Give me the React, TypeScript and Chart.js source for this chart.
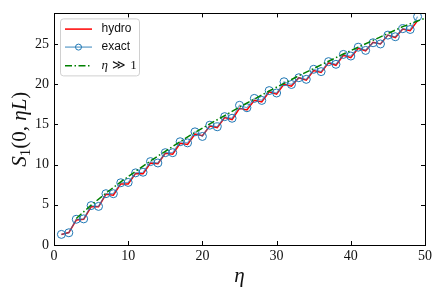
import React, { useEffect, useRef } from "react";
import { Chart, registerables } from "chart.js";

Chart.register(...registerables);

const etaValues = [1,2,3,4,5,6,7,8,9,10,11,12,13,14,15,16,17,18,19,20,21,22,23,24,25,26,27,28,29,30,31,32,33,34,35,36,37,38,39,40,41,42,43,44,45,46,47,48,49];
const exactValues = [1.32,1.52,3.2,3.25,4.9,4.8,6.38,6.38,7.74,7.78,8.97,9.05,10.37,10.2,11.48,11.48,12.84,12.7,14.07,13.5,14.9,14.7,15.96,15.76,17.37,17.07,18.23,17.98,19.2,18.9,20.3,19.96,20.8,20.6,21.85,21.56,22.8,22.47,23.7,23.5,24.6,24.2,25.15,25.0,26.1,25.9,26.9,26.8,28.4];
const hydroValues = [1.3,1.55,3.1,3.2,4.75,4.75,6.3,6.2,7.6,7.6,8.9,8.85,10.2,10.1,11.4,11.3,12.65,12.5,13.8,13.6,14.8,14.6,15.85,15.6,17.0,16.8,18.0,17.8,19.05,18.75,20.0,19.75,20.8,20.5,21.7,21.45,22.65,22.35,23.6,23.3,24.45,24.15,25.2,25.0,26.1,25.8,26.85,26.65,27.9];
const asymEta = [3,5,7,9,11,13,15,17,19,21,23,25,27,29,31,33,35,37,39,41,43,45,47,49,50];
const asymValues = [3.3,4.95,6.45,7.85,9.15,10.45,11.65,12.85,14.0,15.05,16.1,17.15,18.15,19.15,20.1,21.05,21.95,22.85,23.75,24.6,25.45,26.3,27.15,27.85,28.2];
const xTicks = [0,10,20,30,40,50];
const yTicks = [0,5,10,15,20,25];
const legendLabels = ["hydro", "exact"];

const RED = "#ff0000";
const BLUE = "#1f77b4";
const BLUE_LINE = "rgba(31,119,180,0.6)";
const GREEN = "#008000";
const DASHDOT = [7, 2.5, 1.5, 2.5];
const SERIF = "'Liberation Serif'";

const framePlugin = {
  id: "frameTicks",
  afterDatasetsDraw(chart: any) {
    const { ctx, chartArea: a } = chart;
    const xs = chart.scales.x;
    const ys = chart.scales.y;
    ctx.save();
    ctx.strokeStyle = "#000";
    ctx.lineWidth = 1;
    ctx.beginPath();
    const L = 4;
    xTicks.forEach((v) => {
      const px = Math.round(xs.getPixelForValue(v)) + 0.5;
      ctx.moveTo(px, a.bottom); ctx.lineTo(px, a.bottom - L);
      ctx.moveTo(px, a.top); ctx.lineTo(px, a.top + L);
    });
    yTicks.forEach((v) => {
      const py = Math.round(ys.getPixelForValue(v)) + 0.5;
      ctx.moveTo(a.left, py); ctx.lineTo(a.left + L, py);
      ctx.moveTo(a.right, py); ctx.lineTo(a.right - L, py);
    });
    ctx.stroke();
    ctx.strokeRect(Math.round(a.left) + 0.5, Math.round(a.top) + 0.5, Math.round(a.right - a.left), Math.round(a.bottom - a.top));

    // y-axis title with mixed styles
    ctx.save();
    ctx.translate(19, (a.top + a.bottom) / 2);
    ctx.rotate(-Math.PI / 2);
    ctx.fillStyle = "#111";
    ctx.textBaseline = "alphabetic";
    ctx.textAlign = "left";
    const parts: [string, string, number][] = [
      ["S", `italic 21px ${SERIF}`, 0],
      ["1", `15px ${SERIF}`, 4],
      ["(0, ", `21px ${SERIF}`, 0],
      ["\u03b7L", `italic 21px ${SERIF}`, 0],
      [")", `21px ${SERIF}`, 0],
    ];
    let total = 0;
    parts.forEach(([t, f]) => { ctx.font = f; total += ctx.measureText(t).width; });
    let cx = -total / 2;
    parts.forEach(([t, f, dy]) => {
      ctx.font = f;
      ctx.fillText(t, cx, 7 + dy);
      cx += ctx.measureText(t).width;
    });
    ctx.restore();

    // legend
    const x0 = a.left + 6.5, y0 = a.top + 5.5, w = 79, h = 57, r = 3;
    ctx.beginPath();
    ctx.moveTo(x0 + r, y0);
    ctx.lineTo(x0 + w - r, y0);
    ctx.quadraticCurveTo(x0 + w, y0, x0 + w, y0 + r);
    ctx.lineTo(x0 + w, y0 + h - r);
    ctx.quadraticCurveTo(x0 + w, y0 + h, x0 + w - r, y0 + h);
    ctx.lineTo(x0 + r, y0 + h);
    ctx.quadraticCurveTo(x0, y0 + h, x0, y0 + h - r);
    ctx.lineTo(x0, y0 + r);
    ctx.quadraticCurveTo(x0, y0, x0 + r, y0);
    ctx.closePath();
    ctx.fillStyle = "rgba(255,255,255,0.85)";
    ctx.fill();
    ctx.strokeStyle = "#d0d0d0";
    ctx.stroke();

    const lx0 = x0 + 4.5, lx1 = x0 + 31.5, tx = x0 + 41;
    const rows = [y0 + 10.2, y0 + 28.2, y0 + 46.8];
    ctx.lineWidth = 1.5;
    ctx.strokeStyle = RED;
    ctx.beginPath(); ctx.moveTo(lx0, rows[0]); ctx.lineTo(lx1, rows[0]); ctx.stroke();
    ctx.strokeStyle = BLUE_LINE;
    ctx.beginPath(); ctx.moveTo(lx0, rows[1]); ctx.lineTo(lx1, rows[1]); ctx.stroke();
    ctx.lineWidth = 1;
    ctx.strokeStyle = BLUE;
    ctx.beginPath(); ctx.arc((lx0 + lx1) / 2, rows[1], 3, 0, Math.PI * 2); ctx.stroke();
    ctx.lineWidth = 1.5;
    ctx.strokeStyle = GREEN;
    ctx.setLineDash(DASHDOT);
    ctx.beginPath(); ctx.moveTo(lx0, rows[2]); ctx.lineTo(lx1, rows[2]); ctx.stroke();
    ctx.setLineDash([]);

    ctx.fillStyle = "#111";
    ctx.textBaseline = "middle";
    ctx.textAlign = "left";
    ctx.font = "12px 'Liberation Sans'";
    ctx.fillText(legendLabels[0], tx, rows[0]);
    ctx.fillText(legendLabels[1], tx, rows[1]);
    ctx.font = `italic 13px ${SERIF}`;
    ctx.fillText("\u03b7", tx, rows[2]);
    const wEta = ctx.measureText("\u03b7").width;
    ctx.font = "13px 'DejaVu Serif'";
    ctx.fillText(" \u226B ", tx + wEta, rows[2]);
    const wGg = ctx.measureText(" \u226B ").width;
    ctx.font = `13px ${SERIF}`;
    ctx.fillText("1", tx + wEta + wGg, rows[2]);
    ctx.restore();
  },
};

export default function App() {
  const ref = useRef<HTMLCanvasElement | null>(null);
  useEffect(() => {
    document.body.style.margin = "0";
    const canvas = ref.current!;
    const chart = new Chart(canvas, {
      type: "scatter",
      data: {
        datasets: [
          {
            label: "eta >> 1",
            data: asymEta.map((x, i) => ({ x, y: asymValues[i] })),
            showLine: true,
            borderColor: GREEN,
            borderWidth: 1.5,
            borderDash: DASHDOT,
            pointRadius: 0,
            order: 0,
          },
          {
            label: "exact",
            data: etaValues.map((x, i) => ({ x, y: exactValues[i] })),
            showLine: true,
            borderColor: BLUE_LINE,
            borderWidth: 1.2,
            pointRadius: 4,
            pointBorderColor: BLUE,
            pointBorderWidth: 1,
            pointBackgroundColor: "rgba(0,0,0,0)",
            order: 1,
          },
          {
            label: "hydro",
            data: etaValues.map((x, i) => ({ x, y: hydroValues[i] })),
            showLine: true,
            borderColor: RED,
            borderWidth: 1.5,
            pointRadius: 0,
            order: 2,
          },
        ],
      },
      options: {
        responsive: false,
        animation: false,
        layout: { padding: { top: 12, right: 19, left: 0, bottom: 0 } },
        plugins: { legend: { display: false }, tooltip: { enabled: false } },
        scales: {
          x: {
            type: "linear",
            min: 0,
            max: 50,
            afterBuildTicks: (s: any) => { s.ticks = xTicks.map((v) => ({ value: v })); },
            afterFit: (s: any) => { s.height = 51; },
            grid: { display: false, drawTicks: false },
            border: { display: false },
            ticks: { color: "#111", padding: 3, font: { family: SERIF, size: 14 } },
            title: {
              display: true,
              text: "\u03b7",
              color: "#111",
              font: { family: SERIF, size: 21, style: "italic" },
              padding: { top: 0, bottom: 7 },
            },
          },
          y: {
            type: "linear",
            min: 0,
            max: 28.8,
            afterBuildTicks: (s: any) => { s.ticks = yTicks.map((v) => ({ value: v })); },
            afterFit: (s: any) => { s.width = 54; },
            grid: { display: false, drawTicks: false },
            border: { display: false },
            ticks: { color: "#111", padding: 5, font: { family: SERIF, size: 14 } },
            title: { display: false },
          },
        },
      },
      plugins: [framePlugin],
    });
    return () => chart.destroy();
  }, []);
  return <canvas ref={ref} width={444} height={296} style={{ display: "block" }} />;
}
